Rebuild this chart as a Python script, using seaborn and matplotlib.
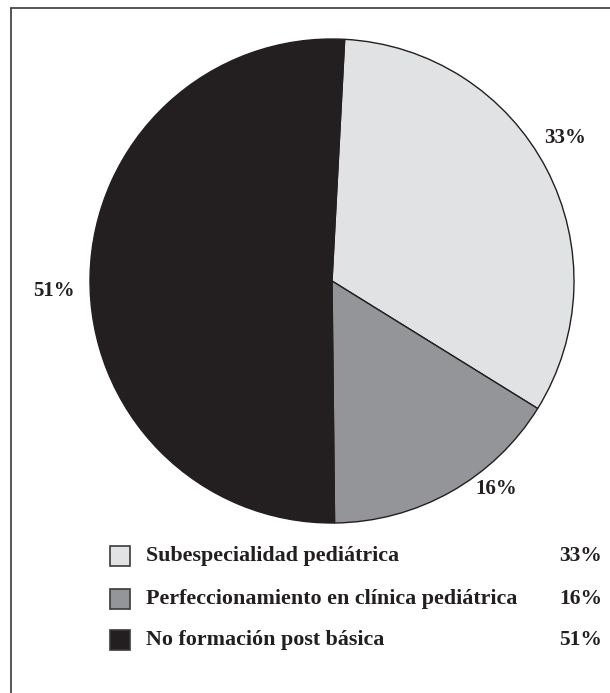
import matplotlib
matplotlib.use("Agg")
import matplotlib.pyplot as plt
from matplotlib.patches import Rectangle
from matplotlib.lines import Line2D
import numpy as np
import seaborn as sns

# Training of pediatric nursing staff
categories = [
    "Subespecialidad pediátrica",
    "Perfeccionamiento en clínica pediátrica",
    "No formación post básica",
]
shares = [33, 16, 51]
share_labels = ["33%", "16%", "51%"]
colors = ["#e1e2e4", "#939598", "#231f20"]

sns.set_theme(style="white")
plt.rcParams["font.family"] = ["Liberation Serif", "DejaVu Serif"]

W, H = 610, 693
fig = plt.figure(figsize=(W / 100, H / 100), dpi=100)
fig.patch.set_facecolor("white")

# pie axes spanning the figure; one data unit equals the pie radius (242 px)
R_PX = 242.0
CX, CY = 332.0, 281.0  # pie centre in pixels from top-left
ax = fig.add_axes([0, 0, 1, 1])
wedges, _ = ax.pie(
    shares,
    colors=colors,
    startangle=87,
    counterclock=False,
    radius=1.0,
    wedgeprops=dict(edgecolor="#231f20", linewidth=1.0),
)
ax.set_xlim(-CX / R_PX, (W - CX) / R_PX)
ax.set_ylim(-(H - CY) / R_PX, CY / R_PX)
ax.set_aspect("auto")
ax.axis("off")

# outside percentage labels, placed around each wedge
label_offsets = [(1.13, 4.0), (1.095, 8.8), (1.15, 3.3)]  # (radius factor, angle shift)
for w, txt, (rf, dang) in zip(wedges, share_labels, label_offsets):
    mid = np.deg2rad((w.theta1 + w.theta2) / 2 + dang)
    ax.text(rf * np.cos(mid), rf * np.sin(mid), txt,
            ha="center", va="center", fontsize=15, fontweight="bold",
            color="#231f20")

# legend drawn in pixel coordinates
def px(x, y):
    return x / W, 1 - y / H

row_y = [556, 599, 640]
for cat, lab, col, y in zip(categories, share_labels, colors, row_y):
    x0, y0 = px(110, y + 10)
    fig.patches.append(Rectangle((x0, y0), 20 / W, 20 / H, transform=fig.transFigure,
                                 facecolor=col, edgecolor="#3a3a3a", linewidth=1.2))
    tx, ty = px(146, y)
    fig.text(tx, ty, cat, ha="left", va="center", fontsize=15.8,
             fontweight="bold", color="#231f20")
    rx, _ = px(602, y)
    fig.text(rx, ty, lab, ha="right", va="center", fontsize=15.5,
             fontweight="bold", color="#231f20")

# frame lines along the top and left
fig.lines.append(Line2D([11 / W, 1.0], [1 - 8 / H, 1 - 8 / H], transform=fig.transFigure,
                        color="#3a3a3a", linewidth=1.2))
fig.lines.append(Line2D([11 / W, 11 / W], [0.0, 1 - 8 / H], transform=fig.transFigure,
                        color="#3a3a3a", linewidth=1.2))

fig.savefig("out.png", dpi=100, facecolor="white")
